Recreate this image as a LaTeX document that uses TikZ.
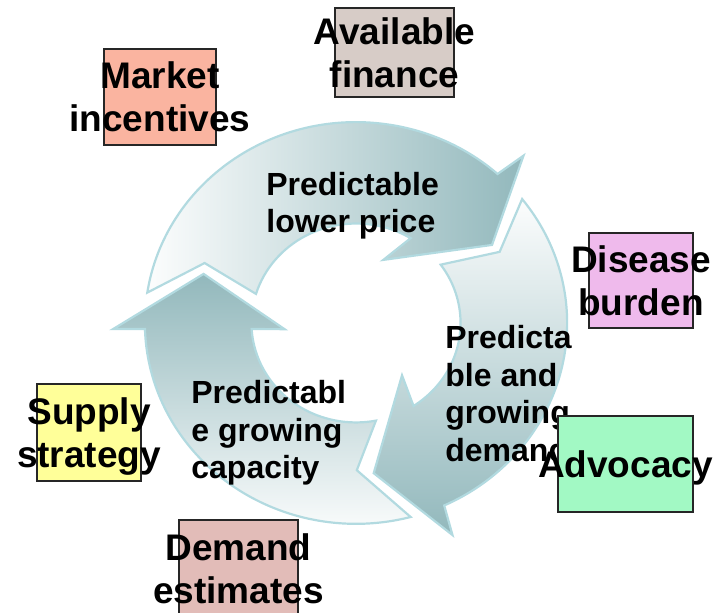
\documentclass[tikz,border=0pt]{standalone}
\usepackage{fontspec}
\setmainfont{Liberation Sans}

\definecolor{arrowlight}{RGB}{252,253,253}
\definecolor{arrowdark}{RGB}{146,184,188}
\definecolor{arrowedge}{RGB}{178,218,224}
\definecolor{marketfill}{RGB}{250,180,160}
\definecolor{financefill}{RGB}{215,204,199}
\definecolor{diseasefill}{RGB}{239,186,236}
\definecolor{advocacyfill}{RGB}{162,249,196}
\definecolor{supplyfill}{RGB}{255,255,153}
\definecolor{demandfill}{RGB}{226,188,184}

\begin{document}
\begin{tikzpicture}[x=0.5pt,y=0.5pt,
    cyclearrow/.style={draw=arrowedge,line width=1.1pt},
    box/.style={draw=black!85,line width=0.8pt,inner sep=0pt}]

    % `boxtext' is used for the labels on the coloured boxes.
    % `arrowtext' is used for the labels inside the arrows.
    \tikzstyle{boxtext} = [font=\fontsize{18.5}{21.5}\selectfont\bfseries,align=center,inner sep=0pt,text depth=0pt]
    \tikzstyle{arrowtext} = [font=\fontsize{16}{18.8}\selectfont\bfseries,align=left,inner sep=0pt,anchor=north west]
    %
    \useasboundingbox (0,0) rectangle (725,613);

    % The cycle of three arrows.
    \begin{scope}[shift={(356,290)},xscale=1.025,yscale=0.975]
        % Top arrow.
        \draw[cyclearrow,left color=arrowlight,right color=arrowdark]
            (171.3:206) arc[start angle=171.3,end angle=47.9,radius=206]
            -- (46.4:237) -- (31.1:155) -- (67.6:70) -- (58.5:102)
            arc[start angle=58.5,end angle=163,radius=102]
            -- (157.4:160) -- cycle;
        % Right arrow.
        \draw[cyclearrow,top color=arrowlight,bottom color=arrowdark]
            (38.1:206) arc[start angle=38.1,end angle=-65.3,radius=206]
            -- (-66.6:237) -- (-83.6:155) -- (-50.1:70) -- (-56.6:102)
            arc[start angle=-56.6,end angle=35.9,radius=102]
            -- (27.5:158) -- cycle;
        % Left arrow.
        \draw[cyclearrow,top color=arrowdark,bottom color=arrowlight]
            (-75:206) arc[start angle=-75,end angle=-178.3,radius=206]
            -- (181.5:237) -- (161.3:157) -- (185.2:70) -- (183.5:102)
            arc[start angle=183.5,end angle=281,radius=102]
            -- (270.3:151) -- cycle;
    \end{scope}

    % Texts inside the arrows.
    \node[arrowtext] (price) at (266,441.5) {Predictable\\lower price};
    \node[arrowtext] (growdemand) at (445,288) {Predicta\\ble and\\growing\\demand};
    \node[arrowtext] (capacity) at (191,233) {Predictabl\\e growing\\capacity};

    % Coloured boxes round the cycle.
    \node[box,fill=marketfill,minimum width=56pt,minimum height=48pt] (market) at (160,516) {};
    \node[boxtext] (markettext) at (market) {Market\\incentives};
    \node[box,fill=financefill,minimum width=59.5pt,minimum height=44.5pt] (finance) at (394.5,560.5) {};
    \node[boxtext] (financetext) at (finance) {Available\\finance};
    \node[box,fill=diseasefill,minimum width=52pt,minimum height=47.5pt] (disease) at (641,332.5) {};
    \node[boxtext] (diseasetext) at (disease) {Disease\\burden};
    \node[box,fill=advocacyfill,minimum width=67.5pt,minimum height=48pt] (advocacy) at (625.5,149) {};
    \node[boxtext] (advocacytext) at (advocacy) {Advocacy};
    \node[box,fill=supplyfill,minimum width=52pt,minimum height=48.5pt] (supply) at (89,180.5) {};
    \node[boxtext] (supplytext) at (supply) {Supply\\strategy};
    \node[box,fill=demandfill,minimum width=59.5pt,minimum height=48.5pt] (demand) at (238.5,44.5) {};
    \node[boxtext] (demandtext) at (demand) {Demand\\estimates};
\end{tikzpicture}
\end{document}
